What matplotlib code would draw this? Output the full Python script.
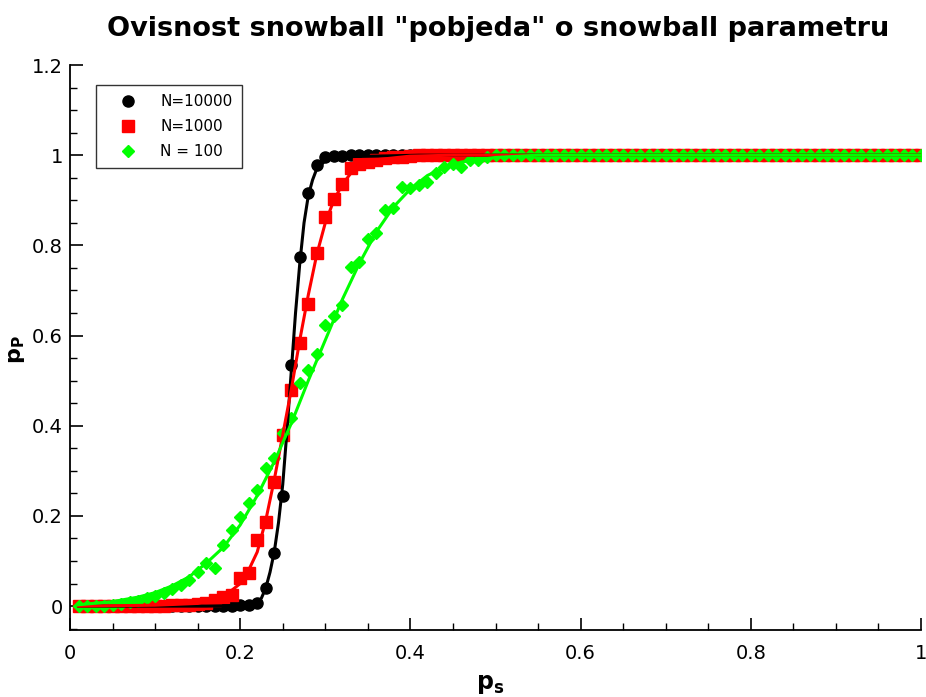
import matplotlib
matplotlib.use("Agg")
import matplotlib.pyplot as plt
from matplotlib.ticker import MultipleLocator, FormatStrFormatter

# p_s values for the simulated points (0.01 .. 1.00)
ps = [0.01, 0.02, 0.03, 0.04, 0.05, 0.06, 0.07, 0.08, 0.09, 0.10,
      0.11, 0.12, 0.13, 0.14, 0.15, 0.16, 0.17, 0.18, 0.19, 0.20,
      0.21, 0.22, 0.23, 0.24, 0.25, 0.26, 0.27, 0.28, 0.29, 0.30,
      0.31, 0.32, 0.33, 0.34, 0.35, 0.36, 0.37, 0.38, 0.39, 0.40,
      0.41, 0.42, 0.43, 0.44, 0.45, 0.46, 0.47, 0.48, 0.49, 0.50,
      0.51, 0.52, 0.53, 0.54, 0.55, 0.56, 0.57, 0.58, 0.59, 0.60,
      0.61, 0.62, 0.63, 0.64, 0.65, 0.66, 0.67, 0.68, 0.69, 0.70,
      0.71, 0.72, 0.73, 0.74, 0.75, 0.76, 0.77, 0.78, 0.79, 0.80,
      0.81, 0.82, 0.83, 0.84, 0.85, 0.86, 0.87, 0.88, 0.89, 0.90,
      0.91, 0.92, 0.93, 0.94, 0.95, 0.96, 0.97, 0.98, 0.99, 1.00]

pp_10000 = [0.0, 0.0, 0.0, 0.0, 0.0, 0.0, 0.0, 0.0, 0.0, 0.0,
            0.0, 0.0, 0.0, 0.0, 0.0, 0.0, 0.0, 0.001, 0.001, 0.002,
            0.003, 0.008, 0.04, 0.117, 0.245, 0.534, 0.775, 0.916, 0.978, 0.995,
            0.998, 0.999, 1.0, 1.0, 1.0, 1.0, 1.0, 1.0, 1.0, 1.0,
            1.0, 1.0, 1.0, 1.0, 1.0, 1.0, 1.0, 1.0, 1.0, 1.0,
            1.0, 1.0, 1.0, 1.0, 1.0, 1.0, 1.0, 1.0, 1.0, 1.0,
            1.0, 1.0, 1.0, 1.0, 1.0, 1.0, 1.0, 1.0, 1.0, 1.0,
            1.0, 1.0, 1.0, 1.0, 1.0, 1.0, 1.0, 1.0, 1.0, 1.0,
            1.0, 1.0, 1.0, 1.0, 1.0, 1.0, 1.0, 1.0, 1.0, 1.0,
            1.0, 1.0, 1.0, 1.0, 1.0, 1.0, 1.0, 1.0, 1.0, 1.0]

pp_1000 = [0.0, 0.0, 0.0, 0.0, 0.0, 0.0, 0.0, 0.0, 0.0, 0.0,
           0.001, 0.002, 0.002, 0.003, 0.005, 0.007, 0.013, 0.02, 0.025, 0.062,
           0.073, 0.146, 0.186, 0.275, 0.379, 0.479, 0.583, 0.67, 0.783, 0.863,
           0.902, 0.936, 0.971, 0.98, 0.985, 0.99, 0.993, 0.995, 0.997, 0.998,
           1.0, 1.0, 1.0, 1.0, 1.0, 1.0, 1.0, 1.0, 1.0, 1.0,
           1.0, 1.0, 1.0, 1.0, 1.0, 1.0, 1.0, 1.0, 1.0, 1.0,
           1.0, 1.0, 1.0, 1.0, 1.0, 1.0, 1.0, 1.0, 1.0, 1.0,
           1.0, 1.0, 1.0, 1.0, 1.0, 1.0, 1.0, 1.0, 1.0, 1.0,
           1.0, 1.0, 1.0, 1.0, 1.0, 1.0, 1.0, 1.0, 1.0, 1.0,
           1.0, 1.0, 1.0, 1.0, 1.0, 1.0, 1.0, 1.0, 1.0, 1.0]

pp_100 = [0.0, 0.0, 0.0, 0.001, 0.003, 0.004, 0.01, 0.011, 0.018, 0.022,
          0.029, 0.038, 0.047, 0.058, 0.075, 0.095, 0.084, 0.135, 0.168, 0.197,
          0.228, 0.257, 0.306, 0.328, 0.383, 0.417, 0.494, 0.523, 0.559, 0.623,
          0.643, 0.667, 0.752, 0.763, 0.814, 0.827, 0.878, 0.882, 0.929, 0.927,
          0.933, 0.94, 0.96, 0.973, 0.98, 0.973, 0.989, 0.99, 0.995, 1.0,
          1.0, 1.0, 1.0, 1.0, 1.0, 1.0, 1.0, 1.0, 1.0, 1.0,
          1.0, 1.0, 1.0, 1.0, 1.0, 1.0, 1.0, 1.0, 1.0, 1.0,
          1.0, 1.0, 1.0, 1.0, 1.0, 1.0, 1.0, 1.0, 1.0, 1.0,
          1.0, 1.0, 1.0, 1.0, 1.0, 1.0, 1.0, 1.0, 1.0, 1.0,
          1.0, 1.0, 1.0, 1.0, 1.0, 1.0, 1.0, 1.0, 1.0, 1.0]

# fitted curves
fit_x_10000 = [0.01, 0.10, 0.16, 0.19, 0.21, 0.22, 0.225, 0.23, 0.235, 0.24,
               0.245, 0.25, 0.255, 0.26, 0.265, 0.27, 0.275, 0.28, 0.285, 0.29,
               0.30, 0.31, 0.33, 0.36, 0.41, 1.0]
fit_10000 = [0.0, 0.0, 0.0, 0.001, 0.003, 0.007, 0.018, 0.04, 0.075, 0.12,
             0.185, 0.27, 0.39, 0.52, 0.65, 0.76, 0.85, 0.91, 0.945, 0.97,
             0.988, 0.994, 0.997, 0.998, 1.0, 1.0]

fit_x_1000 = [0.01, 0.10, 0.15, 0.18, 0.20, 0.21, 0.22, 0.23, 0.24, 0.25,
              0.26, 0.27, 0.28, 0.29, 0.30, 0.31, 0.32, 0.33, 0.34, 0.36,
              0.40, 0.45, 1.0]
fit_1000 = [0.0, 0.002, 0.006, 0.02, 0.05, 0.08, 0.12, 0.19, 0.28, 0.38,
            0.48, 0.59, 0.69, 0.78, 0.85, 0.90, 0.935, 0.96, 0.975, 0.99,
            0.998, 1.0, 1.0]

fit_x_100 = [0.01, 0.05, 0.08, 0.10, 0.12, 0.14, 0.16, 0.18, 0.20, 0.22,
             0.24, 0.26, 0.28, 0.30, 0.32, 0.34, 0.36, 0.38, 0.40, 0.42,
             0.44, 0.46, 0.50, 0.55, 1.0]
fit_100 = [0.003, 0.01, 0.02, 0.03, 0.045, 0.065, 0.095, 0.13, 0.18, 0.245,
           0.32, 0.405, 0.50, 0.59, 0.68, 0.76, 0.83, 0.885, 0.925, 0.955,
           0.973, 0.985, 0.995, 1.0, 1.0]

fig = plt.figure(figsize=(9.26, 6.97), dpi=100)
ax = fig.add_axes([0.0756, 0.0961, 0.919, 0.8106])

h1, = ax.plot(ps, pp_10000, 'o', color='black', markersize=8, label='N=10000')
h2, = ax.plot(ps, pp_1000, 's', color='#ff0000', markersize=9, label='N=1000')
h3, = ax.plot(ps, pp_100, 'D', color='#00ff00', markersize=6.5, label='N = 100')

ax.plot(fit_x_10000, fit_10000, '-', color='black', linewidth=2.2)
ax.plot(fit_x_1000, fit_1000, '-', color='#ff0000', linewidth=2.2)
ax.plot(fit_x_100, fit_100, '-', color='#00ff00', linewidth=2.2)

ax.set_xlim(0, 1)
ax.set_ylim(-0.053, 1.2)
ax.xaxis.set_major_locator(MultipleLocator(0.2))
ax.xaxis.set_minor_locator(MultipleLocator(0.05))
ax.yaxis.set_major_locator(MultipleLocator(0.2))
ax.yaxis.set_minor_locator(MultipleLocator(0.05))
ax.xaxis.set_major_formatter(FormatStrFormatter('%g'))
ax.yaxis.set_major_formatter(FormatStrFormatter('%g'))
ax.tick_params(which='major', direction='in', length=9, width=1.2, labelsize=14)
ax.tick_params(axis='x', which='major', pad=10)
ax.tick_params(axis='y', which='major', pad=5)
ax.tick_params(which='minor', direction='in', length=5, width=1.0)
ax.spines['top'].set_visible(False)
ax.spines['right'].set_visible(False)
ax.spines['left'].set_linewidth(1.3)
ax.spines['bottom'].set_linewidth(1.3)

ax.set_xlabel(r'$\mathbf{p_s}$', fontsize=17)
ax.set_ylabel(r'$\mathbf{p_P}$', fontsize=16)
ax.xaxis.set_label_coords(0.494, -0.074)
ax.yaxis.set_label_coords(-0.051, 0.496)

leg = ax.legend(handles=[h1, h2, h3], loc='upper left', bbox_to_anchor=(0.0306, 0.9646),
                borderaxespad=0, fontsize=11, frameon=True, fancybox=False,
                edgecolor='black', borderpad=0.6, handletextpad=0.6,
                labelspacing=0.65, handlelength=3.0)
leg.get_frame().set_linewidth(1.0)

fig.text(0.538, 0.958, 'Ovisnost snowball "pobjeda" o snowball parametru',
         ha='center', va='center', fontsize=19.5, fontweight='bold')

fig.savefig('out.png', dpi=100)
